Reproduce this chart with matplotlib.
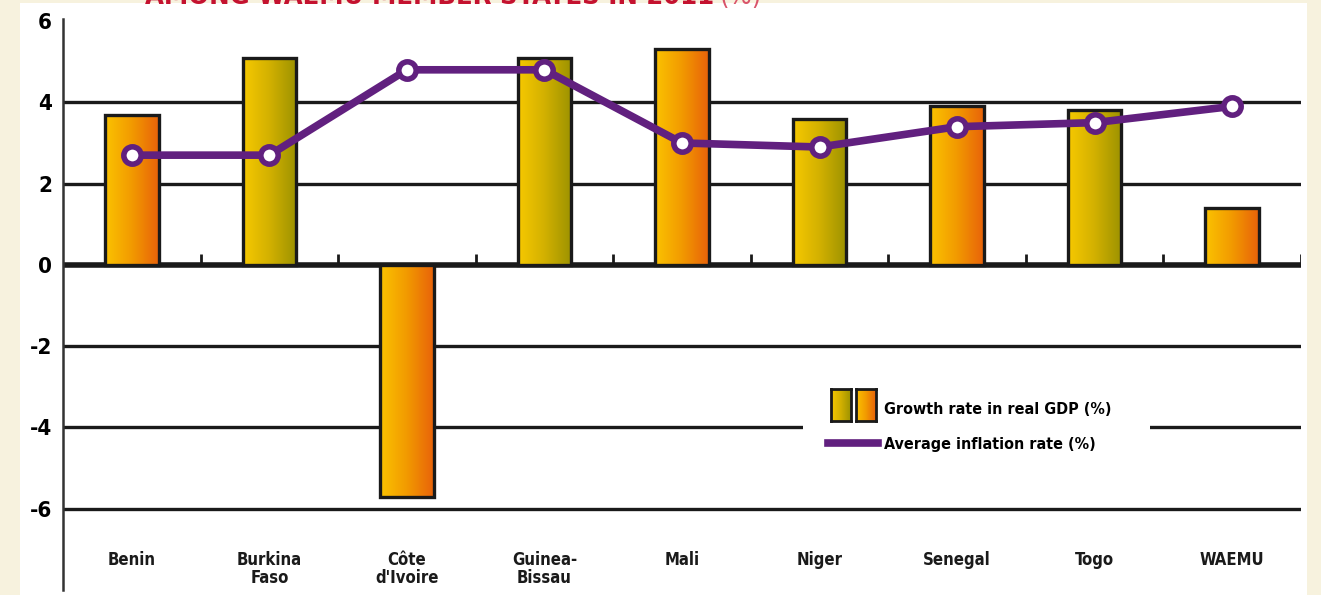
import numpy as np
import matplotlib
matplotlib.use("Agg")
import matplotlib.pyplot as plt
from matplotlib.colors import LinearSegmentedColormap
from matplotlib.patches import Rectangle
from matplotlib.lines import Line2D

# ---- data -------------------------------------------------------------
countries = ["Benin", "Burkina\nFaso", "Côte\nd'Ivoire", "Guinea-\nBissau",
             "Mali", "Niger", "Senegal", "Togo", "WAEMU"]
gdp_growth = [3.7, 5.1, -5.7, 5.1, 5.3, 3.6, 3.9, 3.8, 1.4]
inflation = [2.7, 2.7, 4.8, 4.8, 3.0, 2.9, 3.4, 3.5, 3.9]
y_ticks = [6, 4, 2, 0, -2, -4, -6]
legend_labels = ["Growth rate in real GDP (%)", "Average inflation rate (%)"]
title = "AMONG WAEMU MEMBER STATES IN 2011"
title_unit = "(%)"

# ---- styling ----------------------------------------------------------
W, H, DPI = 1321, 595, 100
BEIGE = "#F7F2DE"
PURPLE = "#61207F"
INK = "#1A1A1A"
orange_cmap = LinearSegmentedColormap.from_list("orange", ["#FBC300", "#F29A00", "#E8620A"])
olive_cmap = LinearSegmentedColormap.from_list("olive", ["#F7C900", "#D2B000", "#9C9200"])
FONT = dict(family="DejaVu Sans", fontstretch="condensed", fontweight="bold")

fig = plt.figure(figsize=(W / DPI, H / DPI), dpi=DPI, facecolor=BEIGE)

def fx(px):
    return px / W

def fy(py):
    return 1 - py / H

# white page panel
fig.add_artist(Rectangle((fx(20), 0), fx(1307) - fx(20), fy(3), transform=fig.transFigure,
                         facecolor="white", edgecolor="none", zorder=0))

ax = fig.add_axes([fx(63), fy(590), fx(1301) - fx(63), fy(19) - fy(590)])
ax.set_facecolor("none")
n = len(countries)

# horizontal rules
for v in y_ticks:
    if v == 6:
        continue
    ax.axhline(v, color=INK, lw=4.0 if v == 0 else 2.4, zorder=1,
               solid_capstyle="butt")

# small separators on the zero line between countries
ax.vlines(np.arange(1, n + 1), 0, 0.27, color=INK, lw=2.0, zorder=1)

# bars with horizontal colour gradient
x = np.arange(n) + 0.5
grad = np.linspace(0, 1, 256).reshape(1, -1)
bars = ax.bar(x, gdp_growth, width=0.39, facecolor="none", edgecolor=INK,
              linewidth=2.4, zorder=3)
for i, b in enumerate(bars):
    cmap = orange_cmap if i % 2 == 0 else olive_cmap
    x0, y0 = b.get_x(), b.get_y()
    w, h = b.get_width(), b.get_height()
    im = ax.imshow(grad, cmap=cmap, aspect="auto", interpolation="bilinear",
                   extent=(x0, x0 + w, min(y0, y0 + h), max(y0, y0 + h)), zorder=2)
    im.set_clip_path(b)

# inflation line
ax.plot(x, inflation, color=PURPLE, lw=5.5, zorder=4, solid_joinstyle="round")
ax.plot(x, inflation, linestyle="none", marker="o", markersize=12.5,
        markerfacecolor="white", markeredgecolor=PURPLE, markeredgewidth=4, zorder=5)

ax.set_xlim(0, n)
ax.set_ylim(-8.0, 6.05)

# axes dressing
for side in ("top", "right", "bottom"):
    ax.spines[side].set_visible(False)
ax.spines["left"].set_color("#333333")
ax.spines["left"].set_linewidth(1.8)
ax.set_xticks([])
ax.set_yticks(y_ticks)
ax.set_yticklabels([str(t) for t in y_ticks], fontsize=16, **FONT)
ax.tick_params(axis="y", length=0, pad=8)

for xi, name in zip(x, countries):
    ax.text(xi, -7.05, name, ha="center", va="top", fontsize=12,
            linespacing=1.0, color=INK, **FONT)

# legend
fig.add_artist(Rectangle((fx(803), fy(463)), fx(1150) - fx(803), fy(383) - fy(463),
                         transform=fig.transFigure, facecolor="white",
                         edgecolor="none", zorder=6))
for (left, cmap) in ((831, olive_cmap), (856, orange_cmap)):
    sw = fig.add_axes([fx(left), fy(421), fx(20), fy(389) - fy(421)], zorder=7)
    sw.imshow(grad, cmap=cmap, aspect="auto", interpolation="bilinear")
    sw.set_xticks([])
    sw.set_yticks([])
    for s in sw.spines.values():
        s.set_linewidth(2.0)
        s.set_color(INK)
fig.add_artist(Line2D([fx(828), fx(878)], [fy(443), fy(443)], transform=fig.transFigure,
                      color=PURPLE, lw=5.5, zorder=7))
fig.text(fx(884), fy(409), legend_labels[0], ha="left", va="center", fontsize=11.5,
         color="black", zorder=8, **FONT)
fig.text(fx(884), fy(444), legend_labels[1], ha="left", va="center", fontsize=11.5,
         color="black", zorder=8, **FONT)

# heading (runs off the top edge of the page)
head = fig.text(fx(145), fy(-3), title, ha="left", va="center", fontsize=19.5,
                color="#C4122F", zorder=9, **FONT)
fig.canvas.draw()
bb = head.get_window_extent()
fig.text(bb.x1 / W + fx(6), fy(-3), title_unit, ha="left", va="center", fontsize=19.5,
         color="#D9546A", family="DejaVu Sans", fontstretch="condensed", zorder=9)

fig.savefig("out.png", dpi=DPI, facecolor=BEIGE)
